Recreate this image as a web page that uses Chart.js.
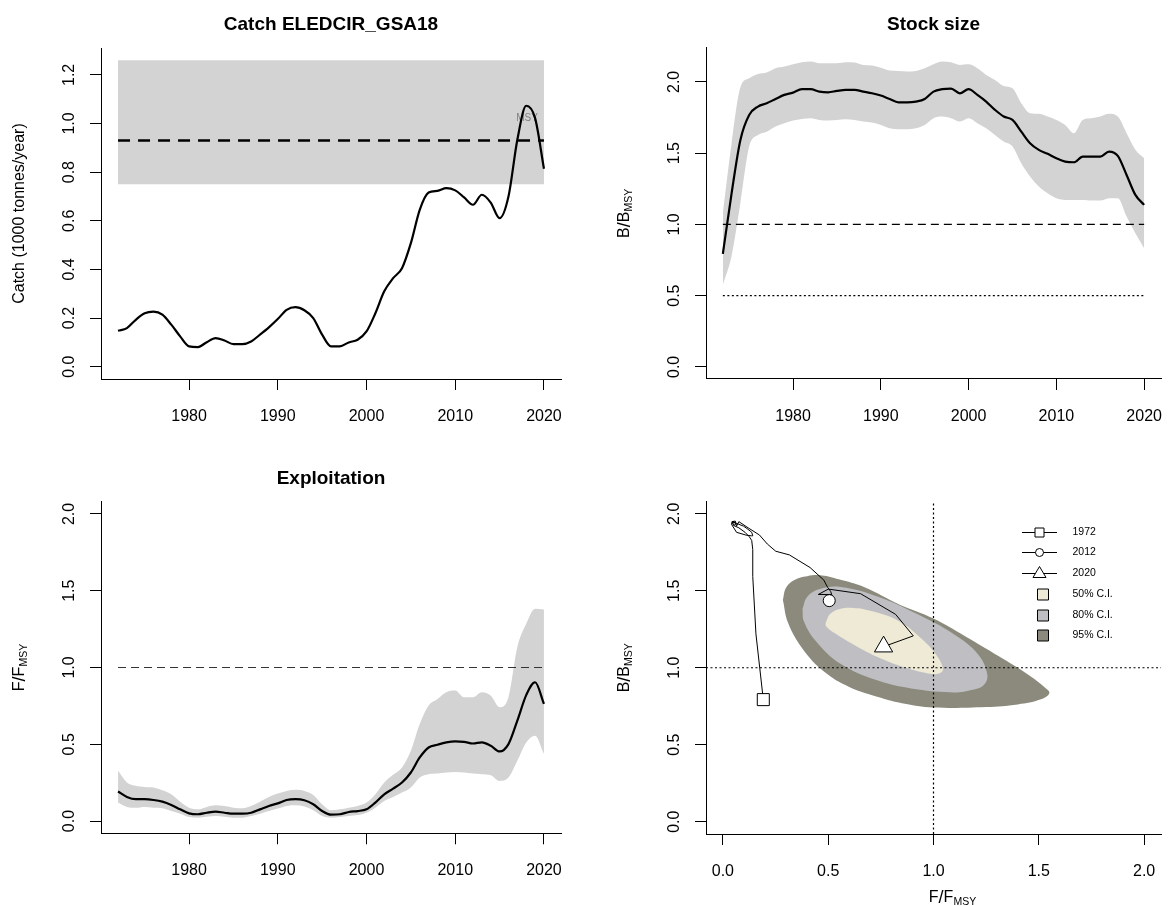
<!DOCTYPE html>
<html><head><meta charset="utf-8">
<script src="https://cdn.jsdelivr.net/npm/chart.js@4.4.1/dist/chart.umd.min.js"></script>
<style>
body{margin:0;background:#fff;}
#wrap{position:relative;width:1168px;height:906px;background:#fff;}
#wrap canvas{position:absolute;left:0;top:0;}
</style></head>
<body>
<div id="wrap">
<canvas id="c1" width="1168" height="906"></canvas>
<canvas id="c2" width="1168" height="906"></canvas>
<canvas id="c3" width="1168" height="906"></canvas>
<canvas id="c4" width="1168" height="906"></canvas>
</div>
<script>
// ---------------- DATA ----------------
const years = [1972,1973,1974,1975,1976,1977,1978,1979,1980,1981,1982,1983,1984,1985,1986,1987,1988,1989,1990,1991,1992,1993,1994,1995,1996,1997,1998,1999,2000,2001,2002,2003,2004,2005,2006,2007,2008,2009,2010,2011,2012,2013,2014,2015,2016,2017,2018,2019,2020];
const catchVals = [0.148,0.159,0.193,0.220,0.227,0.214,0.173,0.125,0.084,0.081,0.101,0.118,0.108,0.093,0.093,0.104,0.132,0.162,0.196,0.234,0.245,0.232,0.200,0.132,0.084,0.084,0.100,0.111,0.145,0.220,0.310,0.364,0.405,0.508,0.645,0.716,0.723,0.734,0.725,0.696,0.666,0.707,0.675,0.611,0.700,0.933,1.073,1.022,0.814];
const catchMSY = 0.93, catchMSYLow = 0.75, catchMSYHigh = 1.26;
const bRel  = [0.793,1.220,1.593,1.768,1.827,1.850,1.880,1.909,1.925,1.949,1.949,1.932,1.927,1.937,1.944,1.944,1.932,1.920,1.904,1.880,1.857,1.857,1.862,1.880,1.932,1.949,1.953,1.920,1.949,1.909,1.862,1.804,1.757,1.733,1.651,1.570,1.523,1.495,1.464,1.441,1.436,1.476,1.476,1.476,1.511,1.481,1.347,1.207,1.137];
const bLow  = [0.575,0.780,1.150,1.546,1.628,1.651,1.687,1.710,1.729,1.740,1.745,1.733,1.729,1.733,1.738,1.733,1.722,1.715,1.698,1.675,1.668,1.668,1.675,1.698,1.745,1.757,1.745,1.722,1.745,1.710,1.675,1.628,1.581,1.546,1.429,1.336,1.266,1.219,1.184,1.172,1.172,1.172,1.167,1.167,1.184,1.184,1.055,0.938,0.833];
const bHigh = [1.078,1.570,1.963,2.026,2.056,2.066,2.096,2.108,2.124,2.138,2.143,2.131,2.131,2.131,2.138,2.136,2.119,2.115,2.100,2.080,2.077,2.073,2.077,2.096,2.124,2.143,2.138,2.119,2.124,2.096,2.049,2.014,1.972,1.956,1.850,1.780,1.776,1.757,1.733,1.698,1.640,1.733,1.745,1.757,1.776,1.757,1.640,1.523,1.464];
const fRel  = [0.192,0.157,0.142,0.142,0.137,0.126,0.105,0.076,0.050,0.044,0.054,0.061,0.054,0.048,0.048,0.054,0.076,0.098,0.115,0.137,0.142,0.135,0.109,0.065,0.041,0.044,0.059,0.065,0.076,0.120,0.174,0.211,0.251,0.316,0.414,0.479,0.497,0.512,0.519,0.516,0.505,0.512,0.490,0.453,0.501,0.654,0.820,0.904,0.763];
const fLow  = [0.120,0.092,0.087,0.092,0.087,0.083,0.065,0.048,0.026,0.022,0.028,0.033,0.028,0.022,0.022,0.033,0.048,0.065,0.081,0.098,0.102,0.094,0.070,0.033,0.022,0.026,0.033,0.039,0.054,0.087,0.131,0.157,0.185,0.218,0.283,0.305,0.309,0.316,0.320,0.316,0.309,0.305,0.298,0.261,0.283,0.392,0.512,0.556,0.436];
const fHigh = [0.327,0.251,0.229,0.222,0.218,0.200,0.174,0.126,0.087,0.076,0.092,0.102,0.098,0.087,0.083,0.098,0.126,0.157,0.179,0.196,0.203,0.196,0.170,0.109,0.070,0.076,0.087,0.098,0.120,0.174,0.251,0.301,0.349,0.458,0.632,0.752,0.795,0.839,0.850,0.806,0.806,0.839,0.817,0.741,0.806,1.133,1.285,1.383,1.377];
const bRef = 1.0, bLim = 0.5, fRef = 1.0;
// Kobe confidence regions (outline points)
const ci95F = [0.285,0.30,0.34,0.40,0.47,0.55,0.67,0.84,1.00,1.15,1.31,1.45,1.53,1.55,1.51,1.40,1.25,1.00,0.85,0.75,0.60,0.48,0.38,0.31];
const ci95B = [1.44,1.52,1.57,1.595,1.60,1.575,1.525,1.41,1.32,1.205,1.075,0.955,0.87,0.835,0.795,0.762,0.745,0.742,0.77,0.805,0.875,0.975,1.12,1.29];
const ci80F = [0.378,0.40,0.457,0.56,0.74,0.92,1.10,1.21,1.255,1.24,1.18,1.10,0.92,0.74,0.56,0.44,0.385];
const ci80B = [1.38,1.46,1.51,1.525,1.46,1.35,1.215,1.09,0.96,0.89,0.855,0.84,0.86,0.915,1.024,1.176,1.30];
const ci50F = [0.488,0.51,0.56,0.62,0.70,0.83,0.95,1.02,1.045,1.03,0.99,0.88,0.75,0.64,0.53,0.49];
const ci50B = [1.29,1.35,1.383,1.388,1.37,1.307,1.18,1.07,0.99,0.965,0.96,0.995,1.06,1.135,1.225,1.27];
const kobeMarkYears = [1972, 2012, 2020];
const legendLabels = ['1972','2012','2020','50% C.I.','80% C.I.','95% C.I.'];
const yearTicks = [1980,1990,2000,2010,2020];
const catchTicks = [0,0.2,0.4,0.6,0.8,1.0,1.2];
const ratioTicks = [0,0.5,1.0,1.5,2.0];
const msyLabelAt = {year: 2018.1, value: 1.02};

// ---------------- HELPERS ----------------
const FONT = "'Liberation Sans', Arial, Helvetica, sans-serif";
const C95 = '#8b8a7c', C80 = '#bfbfc3', C50 = '#eeead6', BAND = '#d3d3d3';
function xy(xs, ys){ return xs.map((x,i)=>({x:x, y:ys[i]})); }
function closed(xs, ys){ const p = xy(xs, ys); p.push({x:xs[0], y:ys[0]}); return p; }
function seg(x0,x1,y0,y1){ return [{x:x0,y:y0},{x:x1,y:y1}]; }

function richText(ctx, parts, x, y, rotate){
  ctx.save();
  ctx.translate(x, y);
  if (rotate) ctx.rotate(-Math.PI/2);
  let total = 0;
  parts.forEach(p => { ctx.font = (p.bold?'bold ':'') + p.size + 'px ' + FONT; p.w = ctx.measureText(p.t).width; total += p.w; });
  let cx = -total/2;
  ctx.textBaseline = 'middle'; ctx.textAlign = 'left';
  parts.forEach(p => { ctx.font = (p.bold?'bold ':'') + p.size + 'px ' + FONT; ctx.fillStyle = p.color || '#000'; ctx.fillText(p.t, cx, p.dy || 0); cx += p.w; });
  ctx.restore();
}

function scalesFor(xmin, xmax, xticks, xfmt, ymin, ymax, yticks){
  const grid = {display:true, drawOnChartArea:false, drawTicks:true, tickLength:11, color:'#000', lineWidth:1};
  const border = {display:true, color:'#000', width:1};
  return {
    x: {type:'linear', position:'bottom', min:xmin, max:xmax, grid:grid, border:border,
        afterBuildTicks: s => { s.ticks = xticks.map(v => ({value:v})); },
        afterFit: s => { s.height = 60; s.paddingLeft = 0; s.paddingRight = 0; },
        ticks: {color:'#000', font:{family:FONT, size:16}, padding:17, minRotation:0, maxRotation:0, autoSkip:false,
                callback: v => xfmt(v)}},
    y: {type:'linear', position:'left', min:ymin, max:ymax, grid:grid, border:border,
        afterBuildTicks: s => { s.ticks = yticks.map(v => ({value:v})); },
        afterFit: s => { s.width = 60; s.paddingTop = 0; s.paddingBottom = 0; },
        ticks: {color:'#000', font:{family:FONT, size:16}, padding:9, minRotation:90, maxRotation:90, crossAlign:'center', autoSkip:false,
                callback: v => v.toFixed(1)}}
  };
}

const textPlugin = {
  id: 'panelText',
  afterDraw(chart, args, opts){
    const ctx = chart.ctx, a = chart.chartArea;
    const cx = (a.left + a.right)/2, cy = (a.top + a.bottom)/2;
    if (opts.title) richText(ctx, [{t:opts.title, size:19, bold:true}], cx, a.top - 23, false);
    if (opts.ytitle) richText(ctx, opts.ytitle, a.left - 81, cy, true);
    if (opts.xtitle) richText(ctx, opts.xtitle, cx + 19, a.bottom + 64, false);
  }
};

function baseOptions(pad, scales, text){
  return {
    responsive:false, animation:false, devicePixelRatio:1, events:[],
    layout:{padding:pad, autoPadding:false},
    plugins:{legend:{display:false}, tooltip:{enabled:false}, title:{display:false}, panelText:text},
    scales:scales,
    elements:{point:{radius:0, hoverRadius:0}}
  };
}
function lineDS(data, extra){
  return Object.assign({type:'line', data:data, borderColor:'#000', borderWidth:1, pointRadius:0, fill:false, tension:0}, extra||{});
}
const XMIN = 1970.08, XMAX = 2021.92;
const yearFmt = v => String(v);

// ---------------- PANEL 1: Catch ----------------
const msyTextPlugin = {
  id:'msyText',
  afterDatasetDraw(chart, args){
    if (args.index !== 2) return;
    const ctx = chart.ctx;
    const px = chart.scales.x.getPixelForValue(msyLabelAt.year);
    const py = chart.scales.y.getPixelForValue(msyLabelAt.value);
    ctx.save(); ctx.font = '10px ' + FONT; ctx.fillStyle = '#808080'; ctx.textAlign = 'center'; ctx.textBaseline = 'middle';
    ctx.fillText('MSY', px, py); ctx.restore();
  }
};
new Chart(document.getElementById('c1'), {
  type:'line',
  data:{datasets:[
    lineDS(seg(years[0], years[years.length-1], catchMSYLow, catchMSYLow), {borderWidth:0, order:10}),
    lineDS(seg(years[0], years[years.length-1], catchMSYHigh, catchMSYHigh), {borderWidth:0, fill:'-1', backgroundColor:BAND, order:9}),
    lineDS(seg(years[0], years[years.length-1], catchMSY, catchMSY), {borderWidth:2.5, borderDash:[12,8], order:5}),
    lineDS(xy(years, catchVals), {borderWidth:2.2, cubicInterpolationMode:'monotone', order:1})
  ]},
  options: baseOptions({left:41, right:607, top:48, bottom:467},
    scalesFor(XMIN, XMAX, yearTicks, yearFmt, -0.0504, 1.3104, catchTicks),
    {title:'Catch ELEDCIR_GSA18', ytitle:[{t:'Catch (1000 tonnes/year)', size:16}]}),
  plugins:[textPlugin, msyTextPlugin]
});

// ---------------- PANEL 2: Stock size ----------------
const bTitle = [{t:'B', size:16},{t:'/', size:18},{t:'B', size:16},{t:'MSY', size:10.5, dy:4}];
new Chart(document.getElementById('c2'), {
  type:'line',
  data:{datasets:[
    lineDS(xy(years, bLow), {borderWidth:0, cubicInterpolationMode:'monotone', order:10}),
    lineDS(xy(years, bHigh), {borderWidth:0, fill:'-1', backgroundColor:BAND, cubicInterpolationMode:'monotone', order:9}),
    lineDS(seg(years[0], years[years.length-1], bRef, bRef), {borderWidth:1.2, borderDash:[8,5], order:5}),
    lineDS(seg(years[0], years[years.length-1], bLim, bLim), {borderWidth:1.2, borderDash:[2,2.5], order:5}),
    lineDS(xy(years, bRel), {borderWidth:2.2, cubicInterpolationMode:'monotone', order:1})
  ]},
  options: baseOptions({left:646, right:7, top:47.7, bottom:467},
    scalesFor(XMIN, XMAX, yearTicks, yearFmt, -0.085, 2.24, ratioTicks),
    {title:'Stock size', ytitle:bTitle}),
  plugins:[textPlugin]
});

// ---------------- PANEL 3: Exploitation ----------------
const fTitle = [{t:'F', size:16},{t:'/', size:18},{t:'F', size:16},{t:'MSY', size:10.5, dy:4}];
new Chart(document.getElementById('c3'), {
  type:'line',
  data:{datasets:[
    lineDS(xy(years, fLow), {borderWidth:0, cubicInterpolationMode:'monotone', order:10}),
    lineDS(xy(years, fHigh), {borderWidth:0, fill:'-1', backgroundColor:BAND, cubicInterpolationMode:'monotone', order:9}),
    lineDS(seg(years[0], years[years.length-1], fRef, fRef), {borderWidth:1.2, borderColor:'#333', borderDash:[8,5], order:5}),
    lineDS(xy(years, fRel), {borderWidth:2.2, cubicInterpolationMode:'monotone', order:1})
  ]},
  options: baseOptions({left:41, right:607, top:501.7, bottom:12.7},
    scalesFor(XMIN, XMAX, yearTicks, yearFmt, -0.08, 2.08, ratioTicks),
    {title:'Exploitation', ytitle:fTitle}),
  plugins:[textPlugin]
});

// ---------------- PANEL 4: Kobe ----------------
const KX0 = -0.08, KX1 = 2.08, KY0 = -0.08, KY1 = 2.08;
const idxOf = y => years.indexOf(y);
const legendPlugin = {
  id:'kobeLegend',
  afterDraw(chart){
    const ctx = chart.ctx, a = chart.chartArea;
    const y0 = a.top + 30.2, dy = 20.75;
    const lx0 = a.right - 139, lx1 = a.right - 104, mx = a.right - 121.5, tx = a.right - 88.5;
    ctx.save();
    ctx.lineWidth = 1; ctx.strokeStyle = '#000';
    legendLabels.forEach((lab, i) => {
      const y = Math.round(y0 + i*dy) + 0.5;
      if (i < 3) {
        ctx.beginPath(); ctx.moveTo(lx0, y); ctx.lineTo(lx1, y); ctx.stroke();
        ctx.fillStyle = '#fff'; ctx.beginPath();
        if (i === 0) { ctx.rect(mx-4.5, y-4.5, 9, 9); }
        else if (i === 1) { ctx.arc(mx, y, 4, 0, Math.PI*2); }
        else { ctx.moveTo(mx, y-7); ctx.lineTo(mx+6.5, y+4); ctx.lineTo(mx-6.5, y+4); ctx.closePath(); }
        ctx.fill(); ctx.stroke();
      } else {
        ctx.fillStyle = [C50, C80, C95][i-3];
        const sx = Math.round(a.right - 124) + 0.5;
        ctx.beginPath(); ctx.rect(sx, y-5.5, 11, 11); ctx.fill(); ctx.stroke();
      }
      ctx.fillStyle = '#000'; ctx.font = '10.5px ' + FONT; ctx.textAlign = 'left'; ctx.textBaseline = 'middle';
      ctx.fillText(lab, tx, y);
    });
    ctx.restore();
  }
};
const markDS = (yr, style, r) => lineDS([{x:fRel[idxOf(yr)], y:bRel[idxOf(yr)]}],
  {showLine:false, pointStyle:style, pointRadius:r, pointBackgroundColor:'#fff', pointBorderColor:'#000', pointBorderWidth:1, order:0, clip:false});
new Chart(document.getElementById('c4'), {
  type:'line',
  data:{datasets:[
    lineDS(closed(ci95F, ci95B), {borderWidth:0, fill:'shape', backgroundColor:C95, tension:0.4, order:20}),
    lineDS(closed(ci80F, ci80B), {borderWidth:0, fill:'shape', backgroundColor:C80, tension:0.4, order:19}),
    lineDS(closed(ci50F, ci50B), {borderWidth:0, fill:'shape', backgroundColor:C50, tension:0.4, order:18}),
    lineDS(seg(fRef, fRef, KY0, KY1), {borderWidth:1.2, borderDash:[2,2.5], order:10}),
    lineDS(seg(KX0, KX1, bRef, bRef), {borderWidth:1.2, borderDash:[2,2.5], order:10}),
    lineDS(xy(fRel, bRel), {borderWidth:1, order:5}),
    markDS(kobeMarkYears[0], 'rect', 8.5),
    markDS(kobeMarkYears[1], 'circle', 6),
    markDS(kobeMarkYears[2], 'triangle', 10.5)
  ]},
  options: baseOptions({left:646, right:7, top:501.5, bottom:12},
    scalesFor(KX0, KX1, ratioTicks, v => v.toFixed(1), KY0, KY1, ratioTicks),
    {ytitle:bTitle, xtitle:fTitle}),
  plugins:[textPlugin, legendPlugin]
});
</script>
</body></html>
